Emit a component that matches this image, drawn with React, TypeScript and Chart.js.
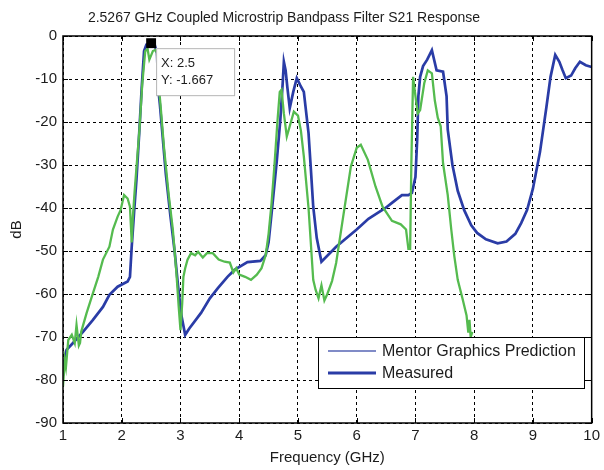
import React, { useEffect, useRef } from "react";
import { Chart, registerables } from "chart.js";

Chart.register(...registerables);

const chartTitle = "2.5267 GHz Coupled Microstrip Bandpass Filter S21 Response";
const xAxisTitle = "Frequency (GHz)";
const yAxisTitle = "dB";
const predictionLabel = "Mentor Graphics Prediction";
const measuredLabel = "Measured";

const xMin = 1;
const xMax = 10;
const yMin = -90;
const yMax = 0;
const xStep = 1;
const yStep = 10;

const measuredFreq = [
  1.0, 1.02, 1.06, 1.17, 1.34, 1.51, 1.68, 1.79, 1.93, 2.1, 2.14, 2.17, 2.21, 2.25,
  2.3, 2.34, 2.38, 2.42, 2.5, 2.56, 2.6, 2.62, 2.65, 2.7, 2.75, 2.83, 2.9, 2.96, 3.02,
  3.08, 3.15, 3.35, 3.5, 3.64, 3.8, 3.92, 4.14, 4.36, 4.45, 4.5, 4.56, 4.64, 4.7, 4.74,
  4.76, 4.79, 4.82, 4.86, 4.92, 4.98, 5.04, 5.1, 5.18, 5.22, 5.26, 5.32, 5.4, 5.65,
  6.0, 6.2, 6.49, 6.6, 6.77, 6.88, 6.94, 7.0, 7.03, 7.05, 7.08, 7.13, 7.2, 7.28, 7.36,
  7.47, 7.53, 7.55, 7.63, 7.72, 7.83, 7.95, 8.05, 8.2, 8.4, 8.55, 8.7, 8.8, 8.9, 9.0,
  9.12, 9.23, 9.3, 9.38, 9.45, 9.5, 9.56, 9.65, 9.72, 9.8, 9.9, 10.0,
];
const measuredDb = [
  -79, -76, -73, -71.4, -68.8, -66, -63, -60.2, -58.3, -57.1, -56, -49, -41, -33.5,
  -22, -12, -3.5, -2, -1.7, -2, -4, -12, -16, -24, -32, -42, -50, -58.3, -65.3,
  -69.5, -68, -64.4, -61, -58.6, -56, -54.4, -52.6, -52.3, -51, -48, -40, -29, -19.5, -11,
  -6, -8, -12, -16.8, -13, -9.8, -11.5, -13, -22.6, -31, -39.7, -47, -52.5, -49,
  -45, -42.5, -40, -38.8, -37, -37, -36.5, -32.8, -24, -14, -9.5, -7, -5.5, -3.3, -8,
  -8.3, -14, -21.8, -30, -36, -40.5, -44, -45.8, -47.3, -48.2, -47.8, -46, -43.5, -40.5, -35.5,
  -27, -16.5, -9.5, -4.4, -6, -7.8, -9.8, -9.2, -7.5, -6, -6.8, -7.2,
];

const predictionFreq = [
  1.0, 1.03, 1.05, 1.09, 1.15, 1.2, 1.23, 1.27, 1.29, 1.31, 1.4, 1.51, 1.6, 1.68, 1.79,
  1.85, 1.93, 1.98, 2.04, 2.1, 2.14, 2.17, 2.19, 2.22, 2.3, 2.35, 2.4, 2.44, 2.47, 2.5,
  2.53, 2.58, 2.6, 2.62, 2.66, 2.72, 2.8, 2.87, 2.93, 2.97, 3.0, 3.03, 3.05, 3.08, 3.12,
  3.18, 3.25, 3.3, 3.38, 3.45, 3.55, 3.65, 3.75, 3.84, 3.9, 3.95, 4.0, 4.1, 4.2, 4.3,
  4.38, 4.45, 4.5, 4.55, 4.6, 4.65, 4.69, 4.72, 4.76, 4.81, 4.86, 4.93, 5.0, 5.05, 5.1,
  5.18, 5.26, 5.3, 5.35, 5.4, 5.45, 5.5, 5.58, 5.65, 5.77, 5.9, 6.0, 6.07, 6.19, 6.32,
  6.44, 6.6, 6.75, 6.84, 6.88, 6.91, 6.93, 6.96, 7.0, 7.04, 7.08, 7.15, 7.21, 7.28, 7.33,
  7.38, 7.43, 7.47, 7.55, 7.61, 7.66, 7.72, 7.8, 7.87, 7.9, 7.92, 7.94, 7.97,
];
const predictionDb = [
  -81.5, -75.3, -77, -70.7, -69.5, -71.4, -67.2, -72, -71.4, -68.8, -64.5, -59.8, -56, -52, -49,
  -45, -42, -40.5, -37, -37.8, -39.7, -48, -42, -36, -22, -11, -3.5, -3, -5.5, -4.5,
  -3.5, -3.2, -4, -10, -16, -26, -37, -45, -55, -63, -68.4, -62, -56, -54, -52,
  -50.5, -51, -50.2, -51.5, -50.5, -50.5, -52, -52.5, -52.7, -55, -54, -55.5, -56, -56.7, -55.5,
  -54, -51, -46, -39, -30, -20, -13, -12.5, -18, -23.4, -21, -17.6, -18.5, -22, -28,
  -40, -56.7, -59, -61, -58, -61.5, -60, -57, -52.8, -42, -30.4, -26, -25.3, -28.8, -35,
  -39.7, -43, -43.8, -45, -49.5, -49.5, -30, -9.5, -14, -18, -17.2, -11, -8, -8.7, -15,
  -19, -21, -29.6, -37, -45, -51, -56.7, -61, -65, -69, -66, -70, -68.8,
];

const dataTipX = [2.5];
const dataTipY = [-1.667];

const measuredColor = "#2a3ca6";
const predictionColor = "#55bb4f";
const legendPredictionColor = "#5664b4";
const fontFamily = "'Liberation Sans', Arial, Helvetica, sans-serif";
const textColor = "#1c1c1c";

const toPoints = (xs: number[], ys: number[]) => xs.map((x, i) => ({ x, y: ys[i] }));

const titlePlugin = {
  id: "figureTitle",
  afterDraw(chart: any) {
    const { ctx } = chart;
    ctx.save();
    ctx.fillStyle = textColor;
    ctx.font = `14px ${fontFamily}`;
    ctx.textAlign = "center";
    ctx.textBaseline = "middle";
    ctx.fillText(chartTitle, 284, 18);
    ctx.restore();
  },
};

const overlayPlugin = {
  id: "matlabOverlay",
  afterDatasetsDraw(chart: any) {
    const { ctx, chartArea, scales } = chart;
    const { left, right, top, bottom } = chartArea;
    ctx.save();
    ctx.strokeStyle = "#000";
    ctx.lineWidth = 1;
    ctx.setLineDash([]);
    const tl = 5;
    for (let v = xMin; v <= xMax; v += xStep) {
      const px = Math.round(scales.x.getPixelForValue(v)) + 0.5;
      ctx.beginPath();
      ctx.moveTo(px, bottom);
      ctx.lineTo(px, bottom - tl);
      ctx.moveTo(px, top);
      ctx.lineTo(px, top + tl);
      ctx.stroke();
    }
    for (let v = yMin; v <= yMax; v += yStep) {
      const py = Math.round(scales.y.getPixelForValue(v)) + 0.5;
      ctx.beginPath();
      ctx.moveTo(left, py);
      ctx.lineTo(left + tl, py);
      ctx.moveTo(right, py);
      ctx.lineTo(right - tl, py);
      ctx.stroke();
    }
    ctx.lineWidth = 1.5;
    ctx.strokeRect(left, top, right - left, bottom - top);

    const mx = scales.x.getPixelForValue(dataTipX[0]);
    const my = scales.y.getPixelForValue(dataTipY[0]);
    const bx = mx + 5;
    const by = my + 5;
    ctx.fillStyle = "#ffffff";
    ctx.fillRect(bx, by, 78, 47);
    ctx.strokeStyle = "#b5b5b5";
    ctx.lineWidth = 1;
    ctx.strokeRect(bx + 0.5, by + 0.5, 78, 47);
    ctx.fillStyle = textColor;
    ctx.font = `13px ${fontFamily}`;
    ctx.textAlign = "left";
    ctx.textBaseline = "middle";
    ctx.fillText(`X: ${dataTipX[0]}`, bx + 5, by + 15);
    ctx.fillText(`Y: ${dataTipY[0]}`, bx + 5, by + 32);

    const lx = 318;
    const ly = 337;
    const lw = 266;
    const lh = 51;
    ctx.fillStyle = "#ffffff";
    ctx.fillRect(lx, ly, lw, lh);
    ctx.strokeStyle = "#000";
    ctx.lineWidth = 1;
    ctx.strokeRect(lx + 0.5, ly + 0.5, lw, lh);
    const entries = [
      { label: chart.data.datasets[1].label, color: legendPredictionColor, width: 1.3, y: ly + 14 },
      { label: chart.data.datasets[0].label, color: measuredColor, width: 3, y: ly + 36 },
    ];
    ctx.font = `16px ${fontFamily}`;
    for (const e of entries) {
      ctx.strokeStyle = e.color;
      ctx.lineWidth = e.width;
      ctx.beginPath();
      ctx.moveTo(lx + 10, e.y);
      ctx.lineTo(lx + 58, e.y);
      ctx.stroke();
      ctx.fillStyle = textColor;
      ctx.fillText(e.label, lx + 64, e.y + 1);
    }
    ctx.restore();
  },
};

export default function App() {
  const canvasRef = useRef<HTMLCanvasElement | null>(null);

  useEffect(() => {
    const canvas = canvasRef.current;
    if (!canvas) return;
    const chart = new Chart(canvas, {
      type: "line",
      data: {
        datasets: [
          {
            label: measuredLabel,
            data: toPoints(measuredFreq, measuredDb),
            borderColor: measuredColor,
            borderWidth: 2.7,
            pointRadius: 0,
            tension: 0,
            order: 2,
          },
          {
            label: predictionLabel,
            data: toPoints(predictionFreq, predictionDb),
            borderColor: predictionColor,
            borderWidth: 2.3,
            pointRadius: 0,
            tension: 0,
            order: 1,
          },
          {
            label: "Data tip",
            data: toPoints(dataTipX, dataTipY),
            showLine: false,
            pointStyle: "rect",
            pointRadius: 7,
            backgroundColor: "#000",
            borderColor: "#000",
            borderWidth: 0,
            order: 0,
            clip: false,
          } as any,
        ],
      },
      options: {
        animation: false,
        responsive: false,
        devicePixelRatio: 1,
        layout: { padding: { left: 0, right: 5, top: 36, bottom: 0 } },
        plugins: {
          legend: { display: false },
          tooltip: { enabled: false },
          title: { display: false, text: chartTitle },
        },
        scales: {
          x: {
            type: "linear",
            min: xMin,
            max: xMax,
            afterFit: (scale: any) => {
              scale.height = 47;
            },
            ticks: {
              stepSize: xStep,
              color: textColor,
              font: { family: fontFamily, size: 15 },
              padding: 4,
              maxRotation: 0,
            },
            grid: { color: "#000", lineWidth: 1, drawTicks: false },
            border: { display: false, dash: [3, 3] },
            title: {
              display: true,
              text: xAxisTitle,
              color: textColor,
              font: { family: fontFamily, size: 15 },
              padding: { top: 0, bottom: 3 },
            },
          },
          y: {
            type: "linear",
            min: yMin,
            max: yMax,
            afterFit: (scale: any) => {
              scale.width = 63;
            },
            ticks: {
              stepSize: yStep,
              color: textColor,
              font: { family: fontFamily, size: 15 },
              padding: 6,
            },
            grid: { color: "#000", lineWidth: 1, drawTicks: false },
            border: { display: false, dash: [3, 3] },
            title: {
              display: true,
              text: yAxisTitle,
              color: textColor,
              font: { family: fontFamily, size: 15 },
              padding: { top: 8, bottom: 0 },
            },
          },
        },
      } as any,
      plugins: [overlayPlugin, titlePlugin],
    });
    return () => chart.destroy();
  }, []);

  return (
    <div style={{ position: "absolute", left: 0, top: 0, width: 604, height: 470, background: "#fff" }}>
      <canvas ref={canvasRef} width={604} height={470} style={{ display: "block", width: 604, height: 470 }} />
    </div>
  );
}
